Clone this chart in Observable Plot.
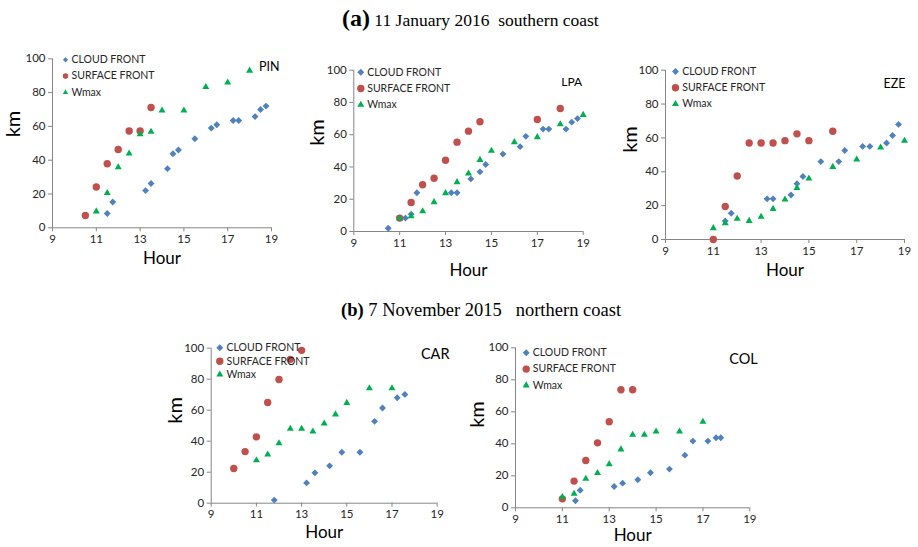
<!DOCTYPE html>
<html><head><meta charset="utf-8">
<script src="https://cdn.jsdelivr.net/npm/d3@7"></script>
<script src="https://cdn.jsdelivr.net/npm/@observablehq/plot@0.6"></script>
<style>
body{margin:0;background:#fff;width:918px;height:547px;position:relative;overflow:hidden;font-family:Lato,sans-serif}
.panel{position:absolute}
.title{position:absolute;font-family:"Liberation Serif","Times New Roman",serif;white-space:pre;color:#000;line-height:1}
</style></head><body>
<div class="title" style="left:342px;top:6px;font-size:17.5px"><b style="font-size:24px">(a)</b> 11 January 2016  southern coast</div>
<div class="title" style="left:341px;top:301px;font-size:18.5px"><b>(b)</b> 7 November 2015   northern coast</div>
<script>
// ---- data ----
const seriesNames = ["CLOUD FRONT", "SURFACE FRONT", "Wmax"];
const xTicks = [9, 11, 13, 15, 17, 19];
const yTicks = [0, 20, 40, 60, 80, 100];

const PIN_cloud = [[11.5,8.5],[11.75,15.3],[13.25,22],[13.5,26.2],[14.25,35],[14.5,43.8],[14.75,46],[15.5,52.7],[16.25,59],[16.5,61],[17.25,63.5],[17.5,63.5],[18.25,65.8],[18.5,70],[18.75,72]];
const PIN_surface = [[10.5,7.3],[11,24.1],[11.5,37.9],[12,46.3],[12.5,57.3],[13,57.3],[13.5,71.2]];
const PIN_wmax = [[11,9.7],[11.5,20.6],[12,35.8],[12.5,44],[13,55.4],[13.5,56.8],[14,69.4],[15,69.4],[16,83.3],[17,86],[18,93]];

const LPA_cloud = [[10.5,2],[11.25,8.3],[11.5,10.7],[11.75,24],[13.25,24],[13.5,24],[14.1,32.6],[14.5,37],[14.75,41.5],[15.5,48],[16.25,52.6],[16.5,59],[17.25,63.5],[17.5,63.5],[18.25,63.5],[18.5,67.8],[18.75,70]];
const LPA_surface = [[11,8.3],[11.5,18],[12,29],[12.5,33],[13,44.2],[13.5,55.4],[14,62.2],[14.5,68],[17,69.4],[18,76.3]];
const LPA_wmax = [[11,8.1],[11.5,9.5],[12,12.6],[12.5,18.2],[13,23.8],[13.5,30.6],[14,36],[14.5,44.4],[15,50],[16,55.4],[17,58.5],[18,66.5],[19,72.3]];

const EZE_cloud = [[11.5,11],[11.75,15.5],[13.25,24],[13.5,24],[14.25,26.3],[14.5,33],[14.75,37.2],[15.5,46],[16.25,46],[16.5,52.6],[17.25,55],[17.55,55],[18.25,57],[18.5,61.4],[18.75,68]];
const EZE_surface = [[11,0],[11.5,19.5],[12,37.5],[12.5,57],[13,57],[13.5,57],[14,58.4],[14.5,62.4],[15,58.4],[16,63.9]];
const EZE_wmax = [[11,6.7],[11.5,9.6],[12,12.2],[12.5,11],[13,13.4],[13.5,18.1],[14,23.6],[14.5,30.5],[15,36],[16,42.9],[17,47.2],[18,54.3],[19,58.3]];

const CAR_cloud = [[11.79,2],[13.22,13.1],[13.59,19.6],[14.24,24.1],[14.78,32.9],[15.58,32.9],[16.23,52.8],[16.58,61.4],[17.23,68],[17.57,70.2]];
const CAR_surface = [[10,22.4],[10.5,33.3],[11,42.8],[11.5,65],[12,79.8],[12.5,92.8],[13,98.6]];
const CAR_wmax = [[11,27.7],[11.5,31.4],[12,38.7],[12.5,48],[13,48],[13.5,46.2],[14,51.4],[14.5,57.3],[15,64.7],[16,74.2],[17,74.2]];

const COL_cloud = [[11.56,4.4],[11.76,11],[13.21,13.3],[13.57,15.4],[14.22,17.5],[14.76,21.9],[15.57,24.2],[16.23,32.9],[16.57,41.7],[17.21,41.7],[17.56,43.8],[17.76,43.8]];
const COL_surface = [[11,5.6],[11.5,16.7],[12,29.6],[12.5,40.6],[13,53.8],[13.5,73.8],[14,73.8]];
const COL_wmax = [[11,6.7],[11.5,8.8],[12,18.1],[12.5,21.7],[13,27.3],[13.5,36.5],[14,45.6],[14.5,45.6],[15,47.7],[16,47.7],[17,53.8]];

// ---- style ----
const axisColor = "#868686";
const textColor = "#262626";
const styles = [
  {symbol: "diamond2", fill: "#4F81BD", r: 3.1},
  {symbol: "circle", fill: "#C0504D", r: 3.7},
  {symbol: "triangle", fill: "#00B050", r: 2.6}
];

const panels = [
  {station: "PIN", data: [PIN_cloud, PIN_surface, PIN_wmax], left: 0, top: 40, width: 300, height: 240,
   ml: 52, mr: 29, mt: 18.3, mb: 52.7, st: {dx: 8, dy: 8.4, fs: 12.5},
   lg: {dx: 13, dy: 1, step: 16.3, tx: 19, rs: 0.75}, km: {dx: -39, dy: -6}, hour: {dy: 35.7}},
  {station: "LPA", data: [LPA_cloud, LPA_surface, LPA_wmax], left: 300, top: 55, width: 310, height: 240,
   ml: 53.3, mr: 27.3, mt: 14.7, mb: 64, st: {dx: -1, dy: 12, fs: 12},
   lg: {dx: 7, dy: 2, step: 16.3, tx: 13.4, rs: 1}, km: {dx: -36.3, dy: -5}, hour: {dy: 44}},
  {station: "EZE", data: [EZE_cloud, EZE_surface, EZE_wmax], left: 600, top: 55, width: 318, height: 240,
   ml: 65, mr: 14, mt: 14.7, mb: 56, st: {dx: 1, dy: 13.6, fs: 12.5},
   lg: {dx: 10, dy: 1.3, step: 16.3, tx: 16.7, rs: 1}, km: {dx: -35, dy: -2}, hour: {dy: 36}},
  {station: "CAR", data: [CAR_cloud, CAR_surface, CAR_wmax], left: 160, top: 330, width: 300, height: 217,
   ml: 50.7, mr: 23.3, mt: 17.7, mb: 44.3, st: {dx: 12.3, dy: 6.3, fs: 14.5},
   lg: {dx: 8.6, dy: -0.4, step: 13.4, tx: 15.3, rs: 1}, km: {dx: -35.7, dy: -2}, hour: {dy: 34.3}},
  {station: "COL", data: [COL_cloud, COL_surface, COL_wmax], left: 460, top: 330, width: 300, height: 217,
   ml: 55, mr: 10.7, mt: 17.3, mb: 39.7, st: {dx: 8, dy: 12, fs: 14.5},
   lg: {dx: 10.7, dy: 5, step: 16.3, tx: 17.3, rs: 1}, km: {dx: -38, dy: 0}, hour: {dy: 32.7}}
];

for (const p of panels) {
  const marks = [
    Plot.axisX({ticks: xTicks, tickSize: 4, tickPadding: 3, fontSize: 11.5, stroke: axisColor, fill: textColor, label: null}),
    Plot.axisY({ticks: yTicks, tickSize: 4, tickPadding: 3, fontSize: 11.5, stroke: axisColor, fill: textColor, label: null}),
    Plot.ruleY([0], {stroke: axisColor}),
    Plot.ruleX([9], {stroke: axisColor}),
    Plot.text(["km"], {frameAnchor: "left", dx: p.km.dx, dy: p.km.dy, rotate: -90, fontSize: 20, fill: "#000"}),
    Plot.text(["Hour"], {frameAnchor: "bottom", dy: p.hour.dy, fontSize: 17, fill: "#000"}),
    Plot.text([p.station], {frameAnchor: "top-right", textAnchor: "end", lineAnchor: "middle", dx: p.st.dx, dy: p.st.dy, fontSize: p.st.fs, fill: "#000"})
  ];
  p.data.forEach((d, i) => {
    const s = styles[i];
    marks.push(Plot.dot(d, {x: v => v[0], y: v => v[1], symbol: s.symbol, fill: s.fill, r: s.r, stroke: "none"}));
  });
  seriesNames.forEach((name, i) => {
    const s = styles[i];
    marks.push(Plot.dot([name], {frameAnchor: "top-left", dx: p.lg.dx, dy: p.lg.dy + i * p.lg.step, symbol: s.symbol, fill: s.fill, r: s.r * p.lg.rs, stroke: "none"}));
    marks.push(Plot.text([name], {frameAnchor: "top-left", textAnchor: "start", lineAnchor: "middle", dx: p.lg.tx, dy: p.lg.dy + i * p.lg.step, fontSize: 10.5, fill: textColor}));
  });
  const chart = Plot.plot({
    width: p.width, height: p.height,
    marginLeft: p.ml, marginRight: p.mr, marginTop: p.mt, marginBottom: p.mb,
    x: {domain: [9, 19]},
    y: {domain: [0, 100]},
    style: {background: "transparent", overflow: "visible", fontFamily: "Lato, sans-serif"},
    marks
  });
  const div = document.createElement("div");
  div.className = "panel";
  div.style.left = p.left + "px";
  div.style.top = p.top + "px";
  div.style.width = p.width + "px";
  div.style.height = p.height + "px";
  div.appendChild(chart);
  document.body.appendChild(div);
}
</script>
</body></html>
